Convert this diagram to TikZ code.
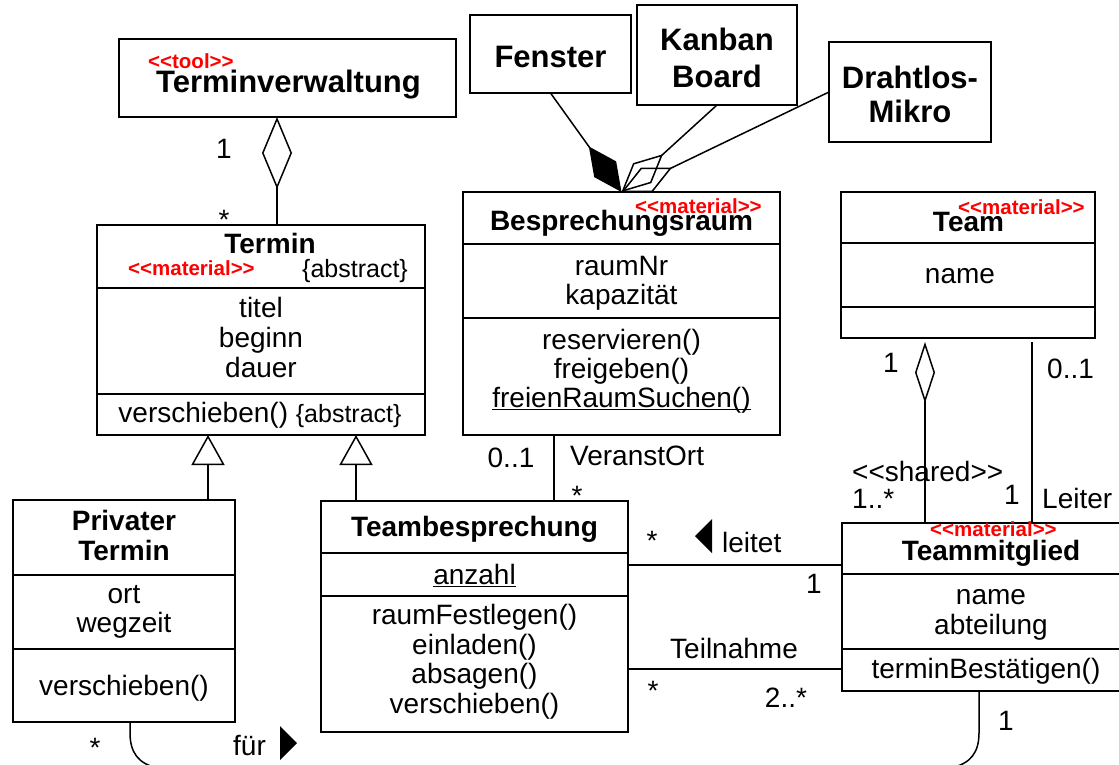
\documentclass[tikz,border=0pt]{standalone}
\usepackage{fontspec}
\setmainfont{Liberation Sans}
\usetikzlibrary{arrows.meta}
\newcommand\stlt{<\kern0pt<}
\newcommand\stgt{>\kern0pt>}
\newcommand\ulx[1]{\setbox0\hbox{#1}\rlap{\rule[-3pt]{\wd0}{1.5pt}}\box0}
\begin{document}
\begin{tikzpicture}[x=1pt,y=-1pt,
  ln/.style={line width=1.5pt},
  box/.style={draw, line width=1.5pt, inner sep=0pt, outer sep=0pt, anchor=north west},
  tx/.style={inner sep=0pt, anchor=base, font=\fontsize{28}{30}\selectfont},
  txw/.style={tx, anchor=base west},
  bt/.style={tx, font=\fontsize{28}{30}\selectfont\bfseries},
  big/.style={tx, font=\fontsize{31}{33}\selectfont\bfseries},
  st/.style={inner sep=0pt, anchor=base west, text=red, font=\fontsize{20.5}{22}\selectfont\bfseries},
  ab/.style={inner sep=0pt, anchor=base west, font=\fontsize{25}{27}\selectfont},
]
\useasboundingbox (0,0) rectangle (1119,764);

% ---------- boxes
\node[box,minimum width=337pt,minimum height=78pt] (tvw) at (119,39) {};
\node[box,minimum width=161pt,minimum height=78pt] (fen) at (470,15) {};
\node[box,minimum width=160pt,minimum height=100pt] (kan) at (637,5) {};
\node[box,minimum width=162pt,minimum height=100pt] (dra) at (829,42) {};
\node[box,minimum width=328pt,minimum height=210pt] (ter) at (97,225) {};
\node[box,minimum width=317pt,minimum height=243pt] (bes) at (463,192) {};
\node[box,minimum width=254pt,minimum height=146pt] (team) at (841,192) {};
\node[box,minimum width=222pt,minimum height=222pt] (pt) at (13,500) {};
\node[box,minimum width=307pt,minimum height=231pt] (tb) at (321,501) {};
\node[box,minimum width=300pt,minimum height=168pt] (tm) at (842,523) {};

% ---------- compartment separators
\draw[ln] (ter.west |- 0,288) -- (ter.east |- 0,288);
\draw[ln] (ter.west |- 0,394) -- (ter.east |- 0,394);
\draw[ln] (bes.west |- 0,244) -- (bes.east |- 0,244);
\draw[ln] (bes.west |- 0,318) -- (bes.east |- 0,318);
\draw[ln] (team.west |- 0,243) -- (team.east |- 0,243);
\draw[ln] (team.west |- 0,307) -- (team.east |- 0,307);
\draw[ln] (pt.west |- 0,575) -- (pt.east |- 0,575);
\draw[ln] (pt.west |- 0,649) -- (pt.east |- 0,649);
\draw[ln] (tb.west |- 0,553) -- (tb.east |- 0,553);
\draw[ln] (tb.west |- 0,596) -- (tb.east |- 0,596);
\draw[ln] (tm.west |- 0,574) -- (tm.east |- 0,574);
\draw[ln] (tm.west |- 0,649) -- (tm.east |- 0,649);

% ---------- texts in boxes
\node[st] (s1) at (148,68) {\stlt tool\stgt};
\node[big] (n1) at (288.5,92) {Terminverwaltung};
\node[big] (n2) at (550.5,67) {Fenster};
\node[big] (n3) at (717,50) {Kanban};
\node[big] (n4) at (717,87) {Board};
\node[big] (n5) at (910,88) {Drahtlos-};
\node[big] (n6) at (910,122) {Mikro};

\node[bt] (n7) at (270,253) {Termin};
\node[st] (s2) at (128,275) {\stlt material\stgt};
\node[ab] (a1) at (302,277) {\{abstract\}};
\node[tx] (a2) at (261,317) {titel};
\node[tx] (a3) at (261,347) {beginn};
\node[tx] (a4) at (261,377) {dauer};
\node[tx] (a5) at (260,422) {verschieben() {\fontsize{25}{27}\selectfont\{abstract\}}};

\node[bt] (n8) at (621.5,230) {Besprechungsraum};
\node[st] (s3) at (635,213) {\stlt material\stgt};
\node[tx] (b1) at (621.5,275) {raumNr};
\node[tx] (b2) at (621.5,304) {kapazität};
\node[tx] (b3) at (621.5,349) {reservieren()};
\node[tx] (b4) at (621.5,378) {freigeben()};
\node[tx] (b5) at (621.5,407) {\ulx{freienRaumSuchen()}};

\node[bt] (n9) at (968.5,231) {Team};
\node[st] (s4) at (958,214) {\stlt material\stgt};
\node[tx] (c1) at (960,283) {name};

\node[bt] (n10) at (124,530) {Privater};
\node[bt] (n11) at (124,560) {Termin};
\node[tx] (d1) at (124,603) {ort};
\node[tx] (d2) at (124,632) {wegzeit};
\node[tx] (d3) at (124,695) {verschieben()};

\node[bt] (n12) at (474.5,536) {Teambesprechung};
\node[tx] (e1) at (474.5,584) {\ulx{anzahl}};
\node[tx] (e2) at (474.5,624) {raumFestlegen()};
\node[tx] (e3) at (474.5,654) {einladen()};
\node[tx] (e4) at (474.5,683) {absagen()};
\node[tx] (e5) at (474.5,713) {verschieben()};

\node[st] (s5) at (930,536) {\stlt material\stgt};
\node[bt] (n13) at (991,560) {Teammitglied};
\node[tx] (f1t) at (991,604) {name};
\node[tx] (f2t) at (991,634) {abteilung};
\node[tx] (f3t) at (986,678) {terminBestätigen()};

% ---------- connectors
\coordinate (ax) at (277,0);
\draw[ln,{Diamond[open,length=72pt,width=30pt]}-] (tvw.south -| ax) -- (ter.north -| ax);
\draw[ln,-{Diamond[length=56pt,width=27pt]}] (fen.south) -- (bes.north);
\draw[ln,-{Diamond[open,length=56pt,width=27pt]}] (kan.south) -- (bes.north);
\draw[ln,-{Diamond[open,length=56pt,width=27pt]}] (dra.west) -- (bes.north);

\coordinate (g1) at (208,0);
\coordinate (g2) at (356,0);
\draw[ln,-{Triangle[open,length=30pt,width=33pt]}] (pt.north -| g1) -- (ter.south -| g1);
\draw[ln,-{Triangle[open,length=30pt,width=33pt]}] (tb.north -| g2) -- (ter.south -| g2);

\coordinate (vx) at (554,0);
\draw[ln] (bes.south -| vx) -- (tb.north -| vx);

\coordinate (h1) at (0,565);
\coordinate (h2) at (0,669);
\draw[ln] (tb.east |- h1) -- (tm.west |- h1);
\draw[ln] (tb.east |- h2) -- (tm.west |- h2);

\coordinate (ta) at (925,0);
\coordinate (lx) at (1032,0);
\draw[ln,{Diamond[open,length=61pt,width=20pt]}-,shorten <=4pt] (team.south -| ta) -- (tm.north -| ta);
\draw[ln,shorten <=4pt] (team.south -| lx) -- (tm.north -| lx);

\coordinate (fx1) at (130,0);
\coordinate (fx2) at (979,0);
\draw[ln] (pt.south -| fx1) -- (130,733) .. controls (130,752) and (138,764) .. (158,768)
  -- (950,768) .. controls (971,764) and (979,752) .. (979,733) -- (tm.south -| fx2);

% direction triangles
\fill (695,536) -- (712,519) -- (712,553) -- cycle;
\fill (297,743) -- (280,726) -- (280,760) -- cycle;

% ---------- labels
\node[tx] (l1) at (224,158) {1};
\node[tx] (l2) at (224,229) {*};
\node[tx] (l3) at (511,467) {0..1};
\node[txw] (l4) at (570,465) {VeranstOrt};
\node[tx] (l5) at (577,505) {*};
\node[tx] (l6) at (652,550) {*};
\node[txw] (l7) at (722,552) {leitet};
\node[tx] (l8) at (814,593) {1};
\node[tx] (l9) at (734,658) {Teilnahme};
\node[tx] (l10) at (653,700) {*};
\node[tx] (l11) at (786,707) {2..*};
\node[tx] (l12) at (891,372) {1};
\node[txw] (l13) at (852,481) {\stlt shared\stgt};
\node[txw] (l14) at (852,508) {1..*};
\node[txw] (l15) at (1047,378) {0..1};
\node[tx] (l16) at (1012,504) {1};
\node[txw] (l17) at (1042,508) {Leiter};
\node[tx] (l18) at (95,757) {*};
\node[txw] (l19) at (233,755) {für};
\node[tx] (l20) at (1006,730) {1};
\end{tikzpicture}
\end{document}
